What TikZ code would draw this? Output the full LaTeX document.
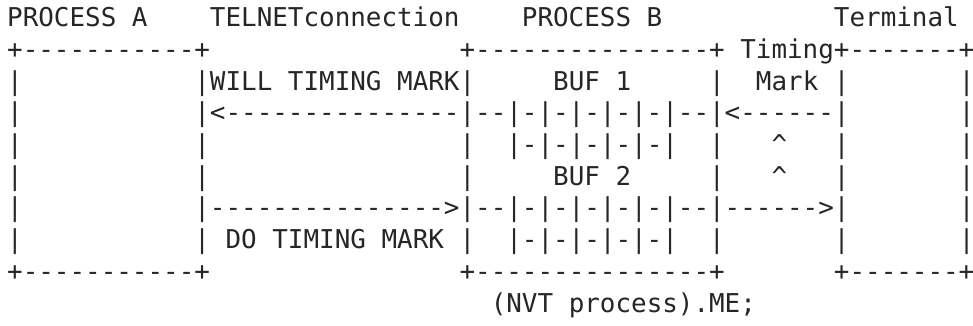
\documentclass[tikz,border=0pt]{standalone}
\usepackage{fontspec}
\setmonofont{DejaVu Sans Mono}[WordSpace={1,0,0},PunctuationSpace=WordSpace]

% run of blank columns
\newcommand\gap[1]{\hspace*{#1\fontcharwd\font`x}}

\tikzstyle{row} = [anchor=base west,inner sep=0pt,text=black!85,
	font=\ttfamily\fontsize{25.91pt}{31.7pt}\selectfont]

\begin{document}
\begin{tikzpicture}
	\path[use as bounding box,fill=white] (0pt,0pt) rectangle (973pt,-325pt);

	\node[row] (r1) at (7pt,-26.7pt) {PROCESS A\gap{4}TELNETconnection\gap{4}PROCESS B\gap{11}Terminal};
	\node[row] (r2) at (7pt,-58.4pt) {+-----------+\gap{16}+---------------+ Timing+-------+};
	\node[row] (r3) at (7pt,-90.1pt) {|\gap{11}|WILL TIMING MARK|\gap{5}BUF 1\gap{5}|\gap{2}Mark |\gap{7}|};
	\node[row] (r4) at (7pt,-121.8pt) {|\gap{11}|<---------------|--|-|-|-|-|-|--|<------|\gap{7}|};
	\node[row] (r5) at (7pt,-153.5pt) {|\gap{11}|\gap{16}|\gap{2}|-|-|-|-|-|\gap{2}|\gap{3}\textasciicircum\gap{3}|\gap{7}|};
	\node[row] (r6) at (7pt,-185.2pt) {|\gap{11}|\gap{16}|\gap{5}BUF 2\gap{5}|\gap{3}\textasciicircum\gap{3}|\gap{7}|};
	\node[row] (r7) at (7pt,-216.9pt) {|\gap{11}|--------------->|--|-|-|-|-|-|--|------>|\gap{7}|};
	\node[row] (r8) at (7pt,-248.6pt) {|\gap{11}| DO TIMING MARK |\gap{2}|-|-|-|-|-|\gap{2}|\gap{7}|\gap{7}|};
	\node[row] (r9) at (7pt,-280.3pt) {+-----------+\gap{16}+---------------+\gap{7}+-------+};
	\node[row] (r10) at (7pt,-312pt) {\gap{31}(NVT process).ME;};
\end{tikzpicture}
\end{document}
